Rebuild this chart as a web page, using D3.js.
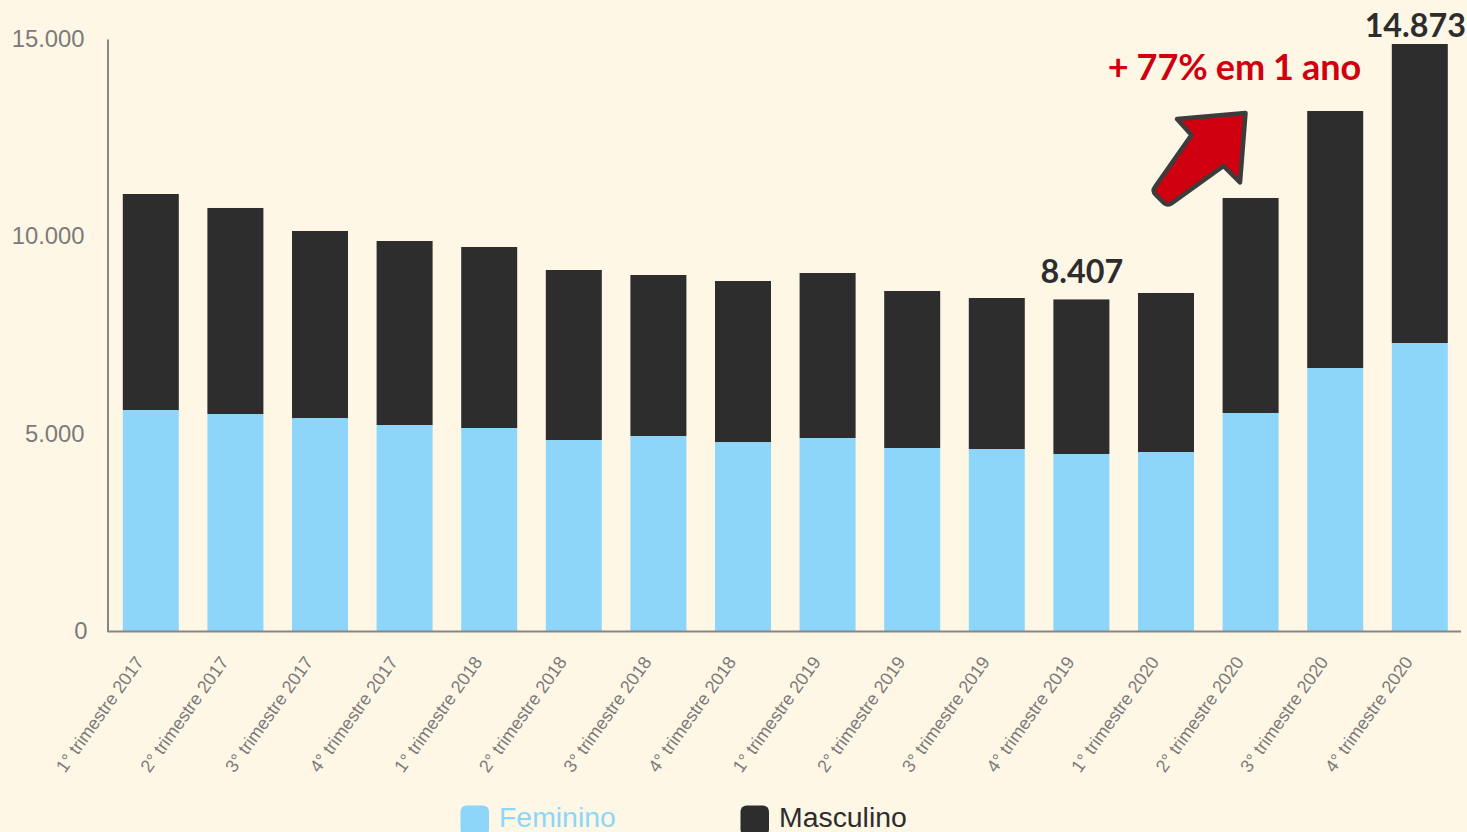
<!DOCTYPE html>
<html><head><meta charset="utf-8">
<script src="https://cdn.jsdelivr.net/npm/d3@7"></script>
<style>html,body{margin:0;padding:0;background:#fff7e6;overflow:hidden}svg{display:block}</style>
</head><body><svg id="c" width="1467" height="832"></svg>
<script>
const categories=["1° trimestre 2017","2° trimestre 2017","3° trimestre 2017","4° trimestre 2017","1° trimestre 2018","2° trimestre 2018","3° trimestre 2018","4° trimestre 2018","1° trimestre 2019","2° trimestre 2019","3° trimestre 2019","4° trimestre 2019","1° trimestre 2020","2° trimestre 2020","3° trimestre 2020","4° trimestre 2020"];
const feminino=[5608,5506,5405,5228,5152,4848,4949,4797,4899,4646,4620,4494,4544,5532,6671,7304];
const masculino=[5468,5216,4734,4658,4582,4304,4076,4076,4177,3974,3823,3913,4026,5443,6506,7569];
const yTicks=[0,5000,10000,15000];
const fmt=v=>d3.format(",")(v).replace(/,/g,".");
const svg=d3.select("#c");
const x=d3.scaleBand().domain(categories).range([108.5,1462.1]).paddingInner(.338).paddingOuter(.169);
const y=d3.scaleLinear().domain([0,15000]).range([631.5,39]);
const rows=categories.map((c,i)=>({c,f:feminino[i],m:masculino[i]}));
const stack=d3.stack().keys(["f","m"])(rows);
const colors={f:"#8ed6f9",m:"#2d2d2d"};
svg.append("g").selectAll("g").data(stack).join("g").attr("fill",d=>colors[d.key])
 .selectAll("rect").data(d=>d).join("rect")
 .attr("x",d=>x(d.data.c)).attr("width",x.bandwidth())
 .attr("y",d=>y(d[1])).attr("height",d=>y(d[0])-y(d[1]));
const ax=svg.append("g").attr("transform","translate(107.5,0)")
 .call(d3.axisLeft(y).tickValues(yTicks).tickFormat(fmt).tickSize(0).tickPadding(22));
ax.select(".domain").attr("stroke","#868686").attr("stroke-width",2);
ax.selectAll("text").attr("font-family","'Liberation Sans'").attr("font-size",23.8).attr("fill","#7b7b7b").attr("dy","0.3em").attr("dx",d=>d===0?2:-1);
const bx=svg.append("g").attr("transform","translate(0,631.5)")
 .call(d3.axisBottom(x).tickSize(0).tickSizeOuter(0));
bx.select(".domain").attr("stroke","#868686").attr("stroke-width",2).attr("d","M107.5,0H1461");
bx.selectAll("text").attr("font-family","'Liberation Sans'").attr("font-size",18).attr("fill","#7b7b7b")
 .attr("text-anchor","end").attr("dx",0).attr("dy",0).attr("y",0).attr("x",0)
 .attr("transform","translate(-11,27) rotate(-54.5) translate(0,6)");
const lab=(i,v,dy,dx)=>svg.append("text").attr("x",x(categories[i])+x.bandwidth()/2+dx).attr("y",y(v)+dy)
 .attr("text-anchor","middle").attr("font-family","Lato").attr("font-weight",700).attr("font-size",32.3).attr("fill","#2d2d2d").text(fmt(v));
lab(11,feminino[11]+masculino[11],-16,0.5);
lab(15,feminino[15]+masculino[15],-7,-4.5);
svg.append("text").attr("x",1234.5).attr("y",80).attr("text-anchor","middle").attr("font-family","Lato").attr("font-weight",700).attr("font-size",36).attr("word-spacing","-0.8px").attr("fill","#d0000f").text("+ 77% em 1 ano");
svg.append("path").attr("d","M1245.5,113 L1177,119 L1191.5,135 L1155,187 Q1152,191 1156,195 L1164,203 Q1168,206 1172,203 L1223.5,166 L1240,182.5 Z")
 .attr("fill","#cf000f").attr("stroke","#3c3c3c").attr("stroke-width",4.5).attr("stroke-linejoin","round");
const legend=[["Feminino","#8ed6f9",460.5],["Masculino","#2d2d2d",740.5]];
legend.forEach(([t,col,lx])=>{
 svg.append("rect").attr("x",lx).attr("y",805.5).attr("width",28.5).attr("height",30).attr("rx",6).attr("fill",col);
 svg.append("text").attr("x",lx+38.5).attr("y",827).attr("font-family","'Liberation Sans'").attr("font-size",28.4).attr("fill",col).text(t);
});
</script></body></html>
